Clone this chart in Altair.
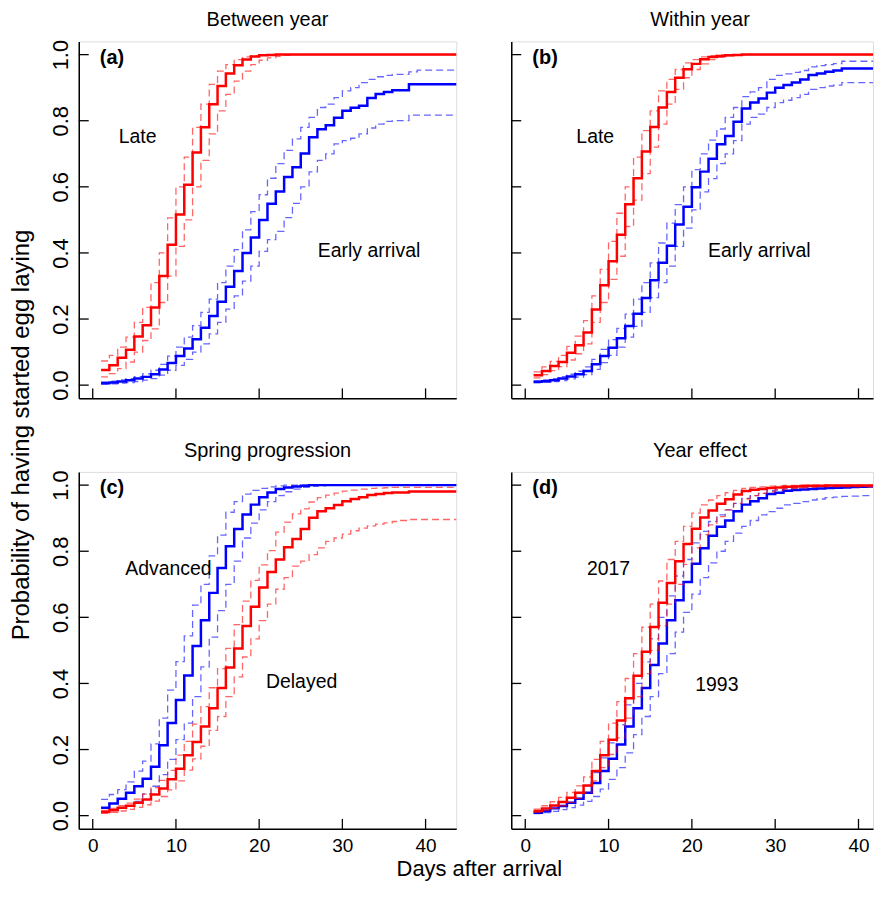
import altair as alt
import pandas as pd

FONT = "Liberation Sans"
DAYS = list(range(1, 45))
XTICKS = [0, 10, 20, 30, 40]
YTICKS = [0.0, 0.2, 0.4, 0.6, 0.8, 1.0]

PANEL_TITLES = ["Between year", "Within year", "Spring progression", "Year effect"]
PANEL_LETTERS = ["(a)", "(b)", "(c)", "(d)"]
X_TITLE = "Days after arrival"
Y_TITLE = "Probability of having started egg laying"

# ---------------- panel (a) ----------------
A_RED_MEAN = [0.046, 0.060, 0.083, 0.107, 0.147, 0.181, 0.235, 0.330, 0.425, 0.516,
              0.606, 0.704, 0.780, 0.850, 0.905, 0.943, 0.968, 0.985, 0.994, 0.998,
              0.999, 1, 1, 1, 1, 1, 1, 1, 1, 1,
              1, 1, 1, 1, 1, 1, 1, 1, 1, 1,
              1, 1, 1, 1]
A_RED_UP = [0.073, 0.090, 0.115, 0.145, 0.190, 0.235, 0.310, 0.400, 0.506, 0.600,
            0.690, 0.780, 0.850, 0.910, 0.950, 0.970, 0.985, 0.993, 0.997, 0.999,
            1, 1, 1, 1, 1, 1, 1, 1, 1, 1,
            1, 1, 1, 1, 1, 1, 1, 1, 1, 1,
            1, 1, 1, 1]
A_RED_LO = [0.025, 0.035, 0.050, 0.070, 0.100, 0.135, 0.170, 0.250, 0.330, 0.420,
            0.500, 0.600, 0.680, 0.760, 0.830, 0.880, 0.920, 0.950, 0.970, 0.983,
            0.990, 0.995, 0.998, 1, 1, 1, 1, 1, 1, 1,
            1, 1, 1, 1, 1, 1, 1, 1, 1, 1,
            1, 1, 1, 1]
A_BLUE_MEAN = [0.006, 0.008, 0.011, 0.015, 0.020, 0.025, 0.033, 0.047, 0.067, 0.088,
               0.111, 0.139, 0.174, 0.209, 0.252, 0.298, 0.345, 0.400, 0.447, 0.500,
               0.549, 0.586, 0.630, 0.659, 0.701, 0.750, 0.774, 0.786, 0.809, 0.830,
               0.839, 0.845, 0.869, 0.881, 0.887, 0.892, 0.892, 0.910, 0.910, 0.910,
               0.910, 0.910, 0.910, 0.910]
A_BLUE_UP = [0.010, 0.012, 0.016, 0.020, 0.026, 0.034, 0.045, 0.063, 0.088, 0.115,
             0.145, 0.180, 0.220, 0.260, 0.310, 0.360, 0.410, 0.470, 0.525, 0.576,
             0.626, 0.670, 0.710, 0.745, 0.780, 0.810, 0.840, 0.850, 0.870, 0.890,
             0.900, 0.915, 0.925, 0.933, 0.937, 0.940, 0.940, 0.948, 0.953, 0.953,
             0.953, 0.953, 0.953, 0.953]
A_BLUE_LO = [0.003, 0.004, 0.006, 0.008, 0.011, 0.015, 0.020, 0.030, 0.045, 0.060,
             0.078, 0.100, 0.125, 0.155, 0.190, 0.230, 0.270, 0.315, 0.360, 0.405,
             0.440, 0.465, 0.507, 0.550, 0.600, 0.645, 0.680, 0.700, 0.730, 0.740,
             0.747, 0.760, 0.778, 0.790, 0.798, 0.800, 0.800, 0.817, 0.817, 0.817,
             0.817, 0.817, 0.817, 0.817]

# ---------------- panel (b) ----------------
B_RED_MEAN = [0.030, 0.043, 0.058, 0.070, 0.098, 0.121, 0.159, 0.229, 0.302, 0.375,
              0.455, 0.547, 0.626, 0.707, 0.781, 0.840, 0.887, 0.930, 0.956, 0.972,
              0.986, 0.993, 0.996, 0.998, 0.999, 1, 1, 1, 1, 1,
              1, 1, 1, 1, 1, 1, 1, 1, 1, 1,
              1, 1, 1, 1]
B_RED_UP = [0.040, 0.055, 0.072, 0.090, 0.117, 0.148, 0.195, 0.270, 0.350, 0.435,
            0.520, 0.600, 0.690, 0.770, 0.830, 0.890, 0.925, 0.955, 0.975, 0.985,
            0.993, 0.997, 0.999, 1, 1, 1, 1, 1, 1, 1,
            1, 1, 1, 1, 1, 1, 1, 1, 1, 1,
            1, 1, 1, 1]
B_RED_LO = [0.022, 0.032, 0.044, 0.056, 0.076, 0.095, 0.125, 0.190, 0.250, 0.320,
            0.390, 0.480, 0.560, 0.640, 0.720, 0.790, 0.850, 0.895, 0.930, 0.955,
            0.972, 0.985, 0.992, 0.996, 0.998, 1, 1, 1, 1, 1,
            1, 1, 1, 1, 1, 1, 1, 1, 1, 1,
            1, 1, 1, 1]
B_BLUE_MEAN = [0.010, 0.012, 0.015, 0.020, 0.026, 0.033, 0.043, 0.063, 0.088, 0.113,
               0.142, 0.179, 0.216, 0.264, 0.317, 0.370, 0.422, 0.486, 0.540, 0.599,
               0.646, 0.685, 0.729, 0.754, 0.797, 0.837, 0.855, 0.867, 0.885, 0.900,
               0.908, 0.916, 0.925, 0.938, 0.943, 0.948, 0.952, 0.958, 0.958, 0.958,
               0.958, 0.958, 0.958, 0.958]
B_BLUE_UP = [0.012, 0.016, 0.020, 0.026, 0.033, 0.042, 0.055, 0.078, 0.108, 0.138,
             0.172, 0.215, 0.260, 0.310, 0.370, 0.430, 0.490, 0.546, 0.600, 0.652,
             0.700, 0.741, 0.775, 0.810, 0.840, 0.873, 0.887, 0.900, 0.925, 0.937,
             0.942, 0.946, 0.952, 0.963, 0.967, 0.970, 0.973, 0.980, 0.980, 0.980,
             0.980, 0.980, 0.980, 0.980]
B_BLUE_LO = [0.007, 0.009, 0.011, 0.014, 0.019, 0.024, 0.032, 0.048, 0.068, 0.090,
             0.115, 0.145, 0.178, 0.220, 0.265, 0.310, 0.360, 0.420, 0.475, 0.530,
             0.585, 0.625, 0.670, 0.700, 0.740, 0.790, 0.810, 0.820, 0.840, 0.855,
             0.862, 0.870, 0.880, 0.895, 0.900, 0.905, 0.908, 0.915, 0.915, 0.915,
             0.915, 0.915, 0.915, 0.915]

# ---------------- panel (c) ----------------
C_BLUE_MEAN = [0.024, 0.037, 0.051, 0.069, 0.089, 0.112, 0.148, 0.213, 0.280, 0.350,
               0.424, 0.513, 0.591, 0.674, 0.749, 0.815, 0.867, 0.911, 0.941, 0.963,
               0.978, 0.988, 0.993, 0.996, 0.998, 1, 1, 1, 1, 1,
               1, 1, 1, 1, 1, 1, 1, 1, 1, 1,
               1, 1, 1, 1]
C_BLUE_UP = [0.049, 0.064, 0.079, 0.102, 0.135, 0.165, 0.217, 0.295, 0.380, 0.466,
             0.544, 0.637, 0.700, 0.786, 0.849, 0.918, 0.950, 0.973, 0.984, 0.990,
             0.995, 0.998, 1, 1, 1, 1, 1, 1, 1, 1,
             1, 1, 1, 1, 1, 1, 1, 1, 1, 1,
             1, 1, 1, 1]
C_BLUE_LO = [0.012, 0.016, 0.022, 0.030, 0.043, 0.066, 0.089, 0.124, 0.170, 0.230,
             0.280, 0.360, 0.450, 0.540, 0.620, 0.700, 0.770, 0.840, 0.885, 0.925,
             0.950, 0.968, 0.980, 0.988, 0.993, 0.996, 0.998, 1, 1, 1,
             1, 1, 1, 1, 1, 1, 1, 1, 1, 1,
             1, 1, 1, 1]
C_RED_MEAN = [0.011, 0.016, 0.024, 0.030, 0.039, 0.049, 0.064, 0.082, 0.110, 0.142,
              0.183, 0.223, 0.270, 0.325, 0.386, 0.448, 0.506, 0.574, 0.632, 0.690,
              0.737, 0.775, 0.812, 0.837, 0.867, 0.901, 0.921, 0.930, 0.940, 0.951,
              0.958, 0.963, 0.970, 0.973, 0.976, 0.978, 0.978, 0.981, 0.981, 0.981,
              0.981, 0.981, 0.981, 0.981]
C_RED_UP = [0.016, 0.022, 0.030, 0.038, 0.050, 0.065, 0.085, 0.107, 0.137, 0.183,
            0.225, 0.277, 0.330, 0.387, 0.445, 0.506, 0.578, 0.649, 0.712, 0.759,
            0.802, 0.858, 0.888, 0.913, 0.928, 0.949, 0.962, 0.970, 0.976, 0.982,
            0.985, 0.988, 0.990, 0.991, 0.992, 0.993, 0.993, 0.993, 0.993, 0.993,
            0.993, 0.993, 0.993, 0.993]
C_RED_LO = [0.007, 0.010, 0.014, 0.019, 0.025, 0.033, 0.044, 0.058, 0.078, 0.105,
            0.138, 0.172, 0.210, 0.258, 0.300, 0.360, 0.420, 0.480, 0.535, 0.590,
            0.640, 0.685, 0.720, 0.755, 0.770, 0.790, 0.810, 0.830, 0.840, 0.852,
            0.862, 0.870, 0.877, 0.882, 0.886, 0.890, 0.893, 0.896, 0.896, 0.896,
            0.896, 0.896, 0.896, 0.896]

# ---------------- panel (d) ----------------
D_RED_MEAN = [0.014, 0.022, 0.031, 0.041, 0.054, 0.069, 0.091, 0.135, 0.183, 0.230,
              0.288, 0.355, 0.423, 0.496, 0.571, 0.644, 0.704, 0.770, 0.822, 0.868,
              0.902, 0.923, 0.944, 0.957, 0.972, 0.982, 0.986, 0.988, 0.991, 0.993,
              0.995, 0.996, 0.997, 0.998, 0.998, 0.999, 0.999, 0.999, 0.999, 0.999,
              0.999, 0.999, 0.999, 0.999]
D_RED_UP = [0.020, 0.030, 0.042, 0.055, 0.070, 0.090, 0.117, 0.170, 0.225, 0.280,
            0.345, 0.415, 0.490, 0.570, 0.640, 0.710, 0.775, 0.830, 0.875, 0.915,
            0.940, 0.955, 0.968, 0.977, 0.984, 0.990, 0.993, 0.995, 0.997, 0.998,
            0.999, 0.999, 1, 1, 1, 1, 1, 1, 1, 1,
            1, 1, 1, 1]
D_RED_LO = [0.010, 0.016, 0.022, 0.030, 0.040, 0.052, 0.070, 0.105, 0.145, 0.185,
            0.235, 0.295, 0.360, 0.430, 0.500, 0.575, 0.640, 0.700, 0.760, 0.810,
            0.850, 0.880, 0.905, 0.925, 0.945, 0.958, 0.968, 0.975, 0.980, 0.985,
            0.988, 0.990, 0.992, 0.993, 0.995, 0.995, 0.995, 0.995, 0.995, 0.995,
            0.995, 0.995, 0.995, 0.995]
D_BLUE_MEAN = [0.009, 0.014, 0.022, 0.029, 0.039, 0.051, 0.069, 0.099, 0.135, 0.172,
               0.215, 0.270, 0.325, 0.386, 0.456, 0.521, 0.591, 0.652, 0.707, 0.762,
               0.809, 0.847, 0.874, 0.893, 0.921, 0.941, 0.951, 0.960, 0.973, 0.977,
               0.983, 0.985, 0.987, 0.988, 0.990, 0.991, 0.992, 0.993, 0.994, 0.995,
               0.996, 0.996, 0.996, 0.996]
D_BLUE_UP = [0.013, 0.020, 0.030, 0.040, 0.053, 0.068, 0.090, 0.130, 0.175, 0.220,
             0.275, 0.335, 0.400, 0.465, 0.535, 0.600, 0.665, 0.725, 0.775, 0.825,
             0.860, 0.890, 0.910, 0.925, 0.945, 0.960, 0.968, 0.975, 0.983, 0.986,
             0.990, 0.992, 0.994, 0.995, 0.997, 0.997, 0.997, 0.997, 0.997, 0.997,
             0.997, 0.997, 0.997, 0.997]
D_BLUE_LO = [0.006, 0.009, 0.013, 0.018, 0.024, 0.032, 0.043, 0.058, 0.080, 0.110,
             0.145, 0.190, 0.245, 0.300, 0.360, 0.430, 0.490, 0.555, 0.615, 0.670,
             0.720, 0.765, 0.800, 0.830, 0.855, 0.875, 0.893, 0.910, 0.920, 0.930,
             0.940, 0.945, 0.950, 0.955, 0.958, 0.962, 0.964, 0.966, 0.967, 0.968,
             0.968, 0.968, 0.968, 0.968]

# curve group labels written inside each panel
LABELS_A = ["Late", "Early arrival"]
LABELS_B = ["Late", "Early arrival"]
LABELS_C = ["Advanced", "Delayed"]
LABELS_D = ["2017", "1993"]

# ---------------- styling / layout ----------------
RED = "#ff0000"
BLUE = "#0000ff"
LEFT_W, RIGHT_W, H = 378.8, 363.0, 358.2
PX_PER_DAY = 8.36
X_MIN = -1.68
X_LEFT_MAX = X_MIN + LEFT_W / 8.35
X_RIGHT_MAX = X_MIN + RIGHT_W / PX_PER_DAY
Y_DOM = [-0.04, 1.04]
ROW_GAP, COL_GAP = 73, 55


def make_panel(idx, series, labels, label_pos, width, xmax, xlabels, ylabels, extra=None):
    xs = alt.Scale(domain=[X_MIN, xmax], nice=False, zero=False)
    ys = alt.Scale(domain=Y_DOM, nice=False, zero=False)
    xaxis = alt.Axis(values=XTICKS, labels=xlabels, ticks=False, tickSize=0, grid=False,
                     domainColor="black", domainWidth=1.5, labelFontSize=19,
                     labelPadding=8, labelColor="black", labelFont=FONT,
                     labelFlush=False, title=None)
    yaxis = alt.Axis(values=YTICKS, labels=ylabels, format=".1f", ticks=False, tickSize=0,
                     grid=False, domainColor="black", domainWidth=1.5, labelFontSize=22,
                     labelAngle=270, labelAlign="center", labelBaseline="bottom",
                     labelPadding=6, labelColor="black", labelFont=FONT,
                     labelFlush=False, title=None)
    X = alt.X("day:Q", scale=xs, axis=xaxis)
    Y = alt.Y("value:Q", scale=ys, axis=yaxis)

    layers = []
    for color, mean, up, lo in series:
        mdf = pd.DataFrame({"day": DAYS, "value": mean})
        cdf = pd.concat([
            pd.DataFrame({"day": DAYS, "value": up, "band": "upper"}),
            pd.DataFrame({"day": DAYS, "value": lo, "band": "lower"}),
        ])
        layers.append(
            alt.Chart(mdf).mark_line(interpolate="step-after", color=color,
                                     strokeWidth=2.5, clip=True).encode(x=X, y=Y))
        layers.append(
            alt.Chart(cdf).mark_line(interpolate="step-after", color=color,
                                     strokeWidth=1.3, strokeDash=[7, 4], opacity=0.6,
                                     clip=True).encode(x=X, y=Y, detail="band:N"))

    # inward tick marks
    layers.append(
        alt.Chart(pd.DataFrame({"day": XTICKS})).mark_rule(color="black", strokeWidth=1.3)
        .encode(x=X, y=alt.value(H), y2=alt.value(H - 10)))
    layers.append(
        alt.Chart(pd.DataFrame({"value": YTICKS})).mark_rule(color="black", strokeWidth=1.3)
        .encode(y=Y, x=alt.value(0), x2=alt.value(10)))

    # group labels
    ldf = pd.DataFrame({"day": [p[0] for p in label_pos],
                        "value": [p[1] for p in label_pos],
                        "label": labels})
    layers.append(
        alt.Chart(ldf).mark_text(font=FONT, fontSize=19.5, color="black",
                                 align="center", baseline="middle")
        .encode(x=X, y=Y, text="label:N"))

    # panel letter
    layers.append(
        alt.Chart(pd.DataFrame({"day": [0.85], "value": [0.99],
                                "label": [PANEL_LETTERS[idx]]}))
        .mark_text(font=FONT, fontSize=20, fontWeight="bold", color="black",
                   align="left", baseline="middle")
        .encode(x=X, y=Y, text="label:N"))

    # panel title
    layers.append(
        alt.Chart(pd.DataFrame({"k": [0]}))
        .mark_text(font=FONT, fontSize=20, color="black", align="center", baseline="middle")
        .encode(x=alt.value(189.4), y=alt.value(-21), text=alt.value(PANEL_TITLES[idx])))

    if extra:
        layers.extend(extra)

    return alt.layer(*layers).properties(width=width, height=H)


one = pd.DataFrame({"k": [0]})
y_title = (alt.Chart(one)
           .mark_text(font=FONT, fontSize=24, color="black", angle=270,
                      align="center", baseline="middle")
           .encode(x=alt.value(-57), y=alt.value(395), text=alt.value(Y_TITLE)))
x_title = (alt.Chart(one)
           .mark_text(font=FONT, fontSize=22, color="black",
                      align="center", baseline="middle")
           .encode(x=alt.value(402), y=alt.value(398.3), text=alt.value(X_TITLE)))

pa = make_panel(0, [(BLUE, A_BLUE_MEAN, A_BLUE_UP, A_BLUE_LO),
                    (RED, A_RED_MEAN, A_RED_UP, A_RED_LO)],
                LABELS_A, [(5.4, 0.75), (33.2, 0.405)],
                LEFT_W, X_LEFT_MAX, False, True, extra=[y_title])
pb = make_panel(1, [(BLUE, B_BLUE_MEAN, B_BLUE_UP, B_BLUE_LO),
                    (RED, B_RED_MEAN, B_RED_UP, B_RED_LO)],
                LABELS_B, [(8.4, 0.75), (28.1, 0.405)],
                RIGHT_W, X_RIGHT_MAX, False, False)
pc = make_panel(2, [(BLUE, C_BLUE_MEAN, C_BLUE_UP, C_BLUE_LO),
                    (RED, C_RED_MEAN, C_RED_UP, C_RED_LO)],
                LABELS_C, [(9.1, 0.747), (25.1, 0.403)],
                LEFT_W, X_LEFT_MAX, True, True, extra=[x_title])
pd_ = make_panel(3, [(BLUE, D_BLUE_MEAN, D_BLUE_UP, D_BLUE_LO),
                     (RED, D_RED_MEAN, D_RED_UP, D_RED_LO)],
                 LABELS_D, [(10.0, 0.747), (23.0, 0.395)],
                 RIGHT_W, X_RIGHT_MAX, True, False)

chart = (alt.concat(pa, pb, pc, pd_, columns=2,
                    spacing={"row": ROW_GAP, "column": COL_GAP}, bounds="flush")
         .properties(padding={"left": 1, "top": 0, "right": 0, "bottom": 0},
                     background="white")
         .configure_view(stroke=None)
         .configure(font=FONT))

chart.save("out.html", embed_options={"renderer": "svg", "actions": False})
